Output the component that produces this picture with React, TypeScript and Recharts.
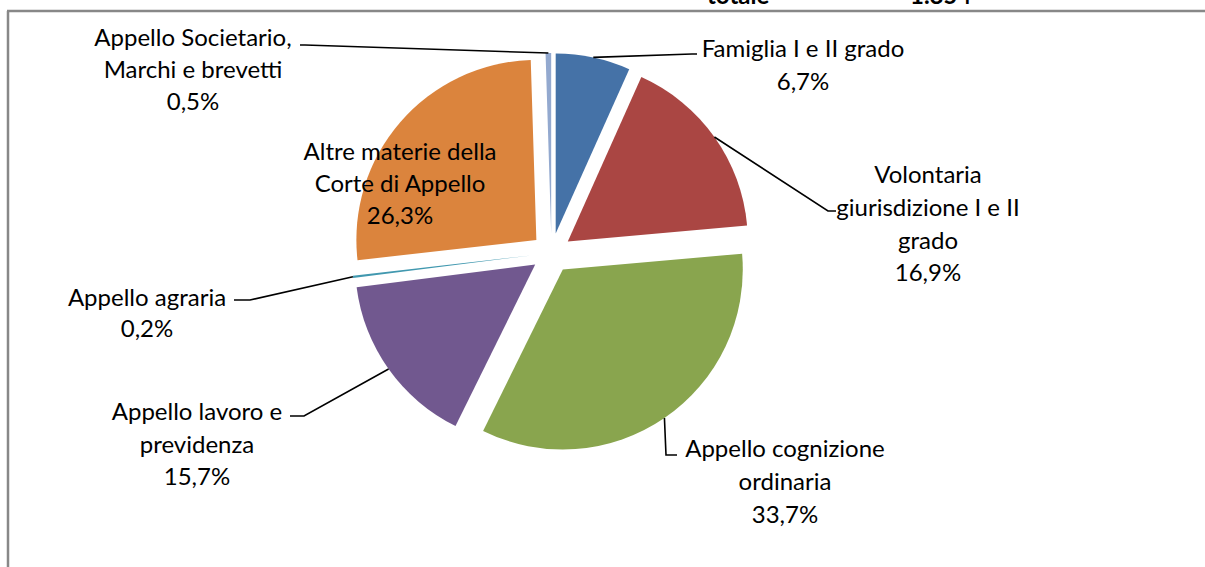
import { PieChart, Pie, Cell, Sector } from "recharts";

const categories = [
  "Famiglia I e II grado",
  "Volontaria giurisdizione I e II grado",
  "Appello cognizione ordinaria",
  "Appello lavoro e previdenza",
  "Appello agraria",
  "Altre materie della Corte di Appello",
  "Appello Societario, Marchi e brevetti",
];
const shares = [6.7, 16.9, 33.7, 15.7, 0.2, 26.3, 0.5];
const labelLines = [
  ["Famiglia I e II grado"],
  ["Volontaria", "giurisdizione I e II", "grado"],
  ["Appello cognizione", "ordinaria"],
  ["Appello lavoro e", "previdenza"],
  ["Appello agraria"],
  ["Altre materie della", "Corte di Appello"],
  ["Appello Societario,", "Marchi e brevetti"],
];
const headerTexts = ["totale", "1.854"];

const colors = ["#4572A7", "#AA4643", "#89A54E", "#71588F", "#4198AF", "#DB843D", "#93A9CF"];

const data = categories.map((name, i) => ({ name, value: shares[i] }));

const W = 1205;
const H = 567;
const CX = 551.5;
const CY = 253;
const R = 180;
const EXPLODE = 20;
const FONT = "Lato, 'Open Sans', sans-serif";
const FS = 24;

// label layout relative to pie centre: elbow of leader, end of short tick, text centre x, line centres y
const labelLayout = [
  { elbow: [140.5, -199], tick: [145.5, -199], tx: 251.5, ly: [-206, -173] },
  { elbow: [276.5, -42], tick: [284.5, -42], tx: 376.5, ly: [-80, -47, -14, 18] },
  { elbow: [114.5, 202], tick: [125.5, 202], tx: 233.5, ly: [194, 227, 260] },
  { elbow: [-247.5, 163], tick: [-261.5, 163], tx: -354.5, ly: [157, 190, 222] },
  { elbow: [-301.5, 47], tick: [-317.5, 47], tx: -404.5, ly: [43, 74] },
  { elbow: null, tick: null, tx: -151.5, ly: [-103, -71, -39] },
  { elbow: [-246.5, -208], tick: [-251.5, -208], tx: -358.5, ly: [-217, -185, -153] },
];

const RAD = Math.PI / 180;

function ExplodedSector(props: any) {
  const { cx, cy, midAngle } = props;
  const dx = EXPLODE * Math.cos(midAngle * RAD);
  const dy = -EXPLODE * Math.sin(midAngle * RAD);
  return <Sector {...props} cx={cx + dx} cy={cy + dy} stroke="none" />;
}

function renderLabel(props: any) {
  const { cx, cy, midAngle, outerRadius, index, value } = props;
  const lay = labelLayout[index];
  const ox = cx + EXPLODE * Math.cos(midAngle * RAD);
  const oy = cy - EXPLODE * Math.sin(midAngle * RAD);
  const sx = ox + outerRadius * Math.cos(midAngle * RAD);
  const sy = oy - outerRadius * Math.sin(midAngle * RAD);
  const lines = [...labelLines[index], `${String(value.toFixed(1)).replace(".", ",")}%`];
  return (
    <g key={`lbl-${index}`}>
      {lay.elbow && lay.tick && (
        <polyline
          points={`${sx},${sy} ${cx + lay.elbow[0]},${cy + lay.elbow[1]} ${cx + lay.tick[0]},${cy + lay.tick[1]}`}
          fill="none"
          stroke="#000"
          strokeWidth={1.6}
        />
      )}
      {lines.map((t, j) => (
        <text
          key={j}
          x={cx + lay.tx}
          y={cy + lay.ly[j]}
          textAnchor="middle"
          dominantBaseline="central"
          fontFamily={FONT}
          fontSize={FS}
          fill="#000"
        >
          {t}
        </text>
      ))}
    </g>
  );
}

export default function App() {
  return (
    <div style={{ position: "relative", width: W, height: H, overflow: "hidden", background: "#fff" }}>
      <style>{"body{margin:0}"}</style>
      <svg width={W} height={H} style={{ position: "absolute", left: 0, top: 0 }}>
        <line x1={7} y1={11} x2={W} y2={11} stroke="#888" strokeWidth={2.5} />
        <line x1={8} y1={11} x2={8} y2={H} stroke="#888" strokeWidth={2.5} />
        <text x={707} y={4} fontFamily={FONT} fontWeight="bold" fontSize={24} fill="#000">
          {headerTexts[0]}
        </text>
        <text x={910} y={4} fontFamily={FONT} fontWeight="bold" fontSize={24} fill="#000">
          {headerTexts[1]}
        </text>
      </svg>
      <div style={{ position: "absolute", left: 0, top: 0 }}>
        <PieChart width={W} height={H} margin={{ top: 0, right: 0, bottom: 0, left: 0 }}>
          <Pie
            data={data}
            dataKey="value"
            nameKey="name"
            cx={CX}
            cy={CY}
            outerRadius={R}
            startAngle={90}
            endAngle={-270}
            stroke="none"
            shape={ExplodedSector}
            label={renderLabel}
            labelLine={false}
            isAnimationActive={false}
          >
            {data.map((d, i) => (
              <Cell key={d.name} fill={colors[i]} />
            ))}
          </Pie>
        </PieChart>
      </div>
    </div>
  );
}
